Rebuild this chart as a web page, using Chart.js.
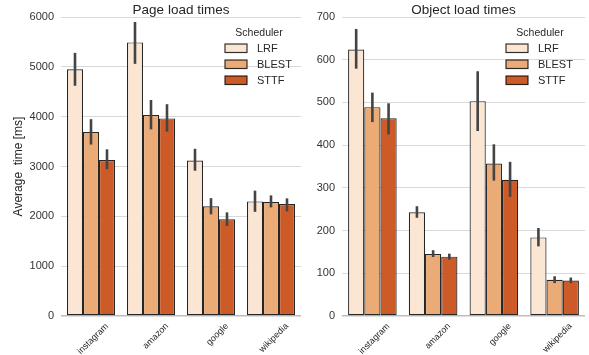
<!DOCTYPE html>
<html>
<head>
<meta charset="utf-8">
<script src="https://cdn.jsdelivr.net/npm/chart.js@4"></script>
<style>
  body { margin: 0; background: #fff; }
  .panel { position: absolute; top: 0; height: 355px; }
  #left { left: 0; width: 310px; }
  #right { left: 310px; width: 279px; }
</style>
</head>
<body>
<div class="panel" id="left"><canvas id="pageChart"></canvas></div>
<div class="panel" id="right"><canvas id="objectChart"></canvas></div>
<script>
// Datos
const sites = ['instagram', 'amazon', 'google', 'wikipedia'];
const schedulers = ['LRF', 'BLEST', 'STTF'];
const schedColors = ['#fbe5d3', '#ebab77', '#cd5b27'];

// Tiempos de carga de página [ms]
const pageLRF = [4950, 5490, 3120, 2300];
const pageLRFLow = [4620, 5060, 2915, 2090];
const pageLRFHigh = [5280, 5900, 3355, 2515];
const pageBLEST = [3690, 4035, 2200, 2290];
const pageBLESTLow = [3440, 3745, 2040, 2180];
const pageBLESTHigh = [3950, 4335, 2365, 2420];
const pageSTTF = [3130, 3965, 1940, 2245];
const pageSTTFLow = [2945, 3700, 1805, 2100];
const pageSTTFHigh = [3345, 4250, 2080, 2360];
const pageTicks = [0, 1000, 2000, 3000, 4000, 5000, 6000];

// Tiempos de carga de objetos [ms]
const objLRF = [624, 243, 503, 184];
const objLRFLow = [579, 230, 433, 163];
const objLRFHigh = [672, 257, 573, 206];
const objBLEST = [489, 145, 357, 85];
const objBLESTLow = [454, 138, 317, 77];
const objBLESTHigh = [523, 154, 402, 93];
const objSTTF = [463, 139, 319, 83];
const objSTTFLow = [425, 132, 279, 77];
const objSTTFHigh = [498, 146, 361, 90];
const objTicks = [0, 100, 200, 300, 400, 500, 600, 700];

const FONT = '"Liberation Sans", Arial, sans-serif';

// Barras de error (intervalo) dibujadas con la escala y
const errorBarsPlugin = {
    id: 'errorBars',
    afterDatasetsDraw(chart) {
        const ctx = chart.ctx;
        const y = chart.scales.y;
        chart.data.datasets.forEach(function(ds, i) {
            chart.getDatasetMeta(i).data.forEach(function(bar, j) {
                ctx.save();
                ctx.strokeStyle = '#444444';
                ctx.lineWidth = 2.6;
                ctx.beginPath();
                ctx.moveTo(bar.x, y.getPixelForValue(ds.errLow[j]));
                ctx.lineTo(bar.x, y.getPixelForValue(ds.errHigh[j]));
                ctx.stroke();
                ctx.restore();
            });
        });
    }
};

// Título del panel y leyenda "Scheduler" dentro del área de la gráfica
const panelDecorPlugin = {
    id: 'panelDecor',
    afterDraw(chart, args, opts) {
        const ctx = chart.ctx;
        const area = chart.chartArea;
        ctx.save();
        ctx.fillStyle = '#262626';
        ctx.textAlign = 'center';
        ctx.textBaseline = 'middle';
        ctx.font = '13.5px ' + FONT;
        ctx.fillText(opts.title, (area.left + area.right) / 2, 10);

        const bx = opts.legendX;
        ctx.font = '10.5px ' + FONT;
        ctx.fillText('Scheduler', bx + 34, 33);
        ctx.textAlign = 'left';
        ctx.font = '11px ' + FONT;
        chart.data.datasets.forEach(function(ds, i) {
            const top = 44 + i * 16;
            ctx.fillStyle = ds.backgroundColor;
            ctx.fillRect(bx, top, 22, 8.5);
            ctx.strokeStyle = 'rgba(0,0,0,0.8)';
            ctx.lineWidth = 1.2;
            ctx.strokeRect(bx, top, 22, 8.5);
            ctx.fillStyle = '#262626';
            ctx.fillText(ds.label, bx + 32, top + 4.5);
        });
        ctx.restore();
    }
};

function makeDatasets(values, lows, highs) {
    return schedulers.map(function(name, i) {
        return {
            label: name,
            data: values[i],
            errLow: lows[i],
            errHigh: highs[i],
            backgroundColor: schedColors[i],
            borderColor: 'rgba(0,0,0,0.85)',
            borderWidth: 1.2,
            borderSkipped: false,
            categoryPercentage: 0.8,
            barPercentage: 1.0
        };
    });
}

function makeChart(canvasId, cfg) {
    return new Chart(document.getElementById(canvasId), {
        type: 'bar',
        data: {
            labels: sites,
            datasets: makeDatasets(cfg.values, cfg.lows, cfg.highs)
        },
        plugins: [errorBarsPlugin, panelDecorPlugin],
        options: {
            responsive: true,
            maintainAspectRatio: false,
            animation: false,
            layout: { padding: { top: 17, right: cfg.padRight, bottom: 0, left: 0 } },
            plugins: {
                legend: { display: false },
                tooltip: { enabled: false },
                panelDecor: { title: cfg.title, legendX: cfg.legendX }
            },
            scales: {
                x: {
                    grid: { display: false },
                    border: { display: false },
                    ticks: {
                        color: '#262626',
                        font: { family: FONT, size: 9 },
                        minRotation: 45,
                        maxRotation: 45,
                        labelOffset: 16,
                        padding: -3
                    },
                    afterFit: function(scale) { scale.height = 39; }
                },
                y: {
                    min: 0,
                    max: cfg.ticks[cfg.ticks.length - 1],
                    afterBuildTicks: function(scale) {
                        scale.ticks = cfg.ticks.map(function(v) { return { value: v }; });
                    },
                    grid: {
                        drawTicks: false,
                        color: function(c) { return c.tick && c.tick.value === 0 ? '#bdbdbd' : '#d9d9d9'; },
                        lineWidth: function(c) { return c.tick && c.tick.value === 0 ? 1.6 : 1; }
                    },
                    border: { display: false },
                    ticks: {
                        color: '#333333',
                        font: { family: FONT, size: 11 },
                        padding: 7,
                        callback: function(v) { return String(v); }
                    },
                    title: {
                        display: cfg.yTitle !== '',
                        text: cfg.yTitle,
                        color: '#262626',
                        font: { family: FONT, size: 12 },
                        padding: { top: 11, bottom: 0 }
                    },
                    afterFit: function(scale) { scale.width = cfg.yWidth; }
                }
            }
        }
    });
}

makeChart('pageChart', {
    title: 'Page load times',
    yTitle: 'Average  time [ms]',
    values: [pageLRF, pageBLEST, pageSTTF],
    lows: [pageLRFLow, pageBLESTLow, pageSTTFLow],
    highs: [pageLRFHigh, pageBLESTHigh, pageSTTFHigh],
    ticks: pageTicks,
    yWidth: 61,
    padRight: 9,
    legendX: 225
});

makeChart('objectChart', {
    title: 'Object load times',
    yTitle: '',
    values: [objLRF, objBLEST, objSTTF],
    lows: [objLRFLow, objBLESTLow, objSTTFLow],
    highs: [objLRFHigh, objBLESTHigh, objSTTFHigh],
    ticks: objTicks,
    yWidth: 32,
    padRight: 4,
    legendX: 196
});
</script>
</body>
</html>
